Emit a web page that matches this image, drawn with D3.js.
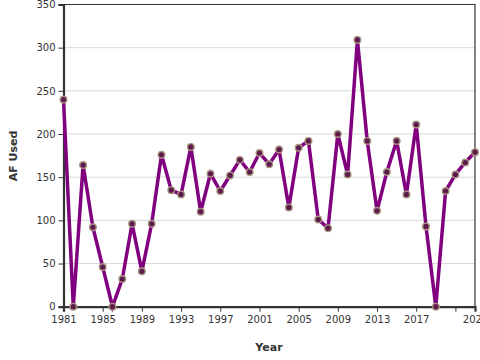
<!DOCTYPE html>
<html><head><meta charset="utf-8">
<script src="https://cdn.jsdelivr.net/npm/d3@7"></script>
<style>
html,body{margin:0;padding:0;background:#fff;}
svg{display:block;font-family:"DejaVu Sans",sans-serif;}
</style></head>
<body><svg id="c" width="480" height="360"></svg>
<script>
const years = [1981,1982,1983,1984,1985,1986,1987,1988,1989,1990,1991,1992,1993,1994,1995,1996,1997,1998,1999,2000,2001,2002,2003,2004,2005,2006,2007,2008,2009,2010,2011,2012,2013,2014,2015,2016,2017,2018,2019,2020,2021,2022,2023];
const afUsed = [240,0,164,92,46,0,32,96,41,96,176,135,130,185,110,154,134,152,170,156,178,165,182,115,184,192,101,91,200,153,309,192,111,156,192,130,211,93,0,134,153,167,179];
const yTicks = [0,50,100,150,200,250,300,350];
const xTicks = [1981,1985,1989,1993,1997,2001,2005,2009,2013,2017,2021,2023];
const xTickLabels = ["1981","1985","1989","1993","1997","2001","2005","2009","2013","2017","","2023"];

const svg = d3.select("#c");
const L=63.5, R=475, T=4.5, B=306.7;
const x = d3.scaleLinear().domain([1981,2023]).range([L,R]);
const y = d3.scaleLinear().domain([0,350]).range([B,T]);

// grid
svg.append("g").selectAll("line").data(yTicks.slice(1)).join("line")
  .attr("x1",L).attr("x2",R).attr("y1",d=>y(d)).attr("y2",d=>y(d))
  .attr("stroke","#d9d9d9").attr("stroke-width",1);

// frame top/right
svg.append("path").attr("d",`M${L},${T}H${R}V${B}`).attr("fill","none").attr("stroke","#333").attr("stroke-width",1.2);

// axes
const yAxis = svg.append("g").attr("transform",`translate(${L},0)`)
  .call(d3.axisLeft(y).tickValues(yTicks).tickSize(5).tickPadding(3));
const xAxis = svg.append("g").attr("transform",`translate(0,${B})`)
  .call(d3.axisBottom(x).tickValues(xTicks).tickSize(5).tickPadding(4)
    .tickFormat((d,i)=>xTickLabels[i]));
[yAxis,xAxis].forEach(g=>{
  g.select(".domain").attr("stroke","#333").attr("stroke-width",2.2);
  g.selectAll(".tick line").attr("stroke","#333").attr("stroke-width",1);
  g.selectAll("text").attr("fill","#333").attr("font-size",10).attr("font-family","DejaVu Sans, sans-serif");
});
xAxis.selectAll(".tick").filter(d=>d===2023).select("line").remove();

// line
const data = years.map((yr,i)=>({yr,v:afUsed[i]}));
svg.append("path").datum(data)
  .attr("d",d3.line().x(d=>x(d.yr)).y(d=>y(d.v)))
  .attr("fill","none").attr("stroke","#800080").attr("stroke-width",3.5)
  .attr("stroke-linejoin","miter");

svg.append("g").selectAll("circle").data(data).join("circle")
  .attr("cx",d=>x(d.yr)).attr("cy",d=>y(d.v)).attr("r",3.3)
  .attr("fill","#5c1a4e").attr("stroke","#a8967f").attr("stroke-width",1.4);

// titles
svg.append("text").attr("x",269).attr("y",351).attr("text-anchor","middle")
  .attr("font-size",11).attr("font-weight","bold").attr("fill","#333").text("Year");
svg.append("text").attr("transform","translate(17,156) rotate(-90)").attr("text-anchor","middle")
  .attr("font-size",11).attr("font-weight","bold").attr("fill","#333").text("AF Used");
</script></body></html>
